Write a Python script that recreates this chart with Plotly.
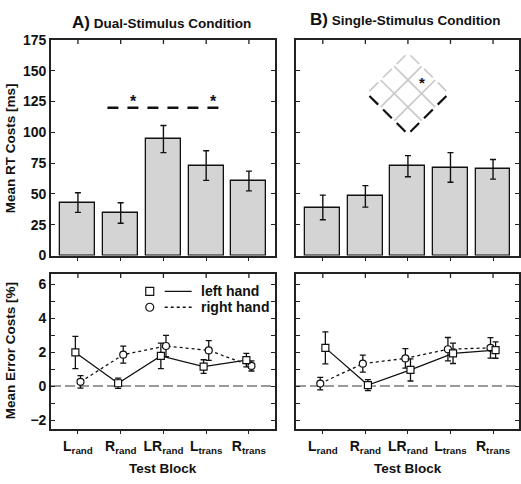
import plotly.graph_objects as go

# ---------------- data ----------------
blocks = ["L<sub>rand</sub>", "R<sub>rand</sub>", "LR<sub>rand</sub>", "L<sub>trans</sub>", "R<sub>trans</sub>"]

rt_dual = [43, 34.5, 94.5, 73, 60.5]
rt_dual_err = [8, 8.3, 11, 12, 8]
rt_single = [39, 48, 72.5, 71.5, 70]
rt_single_err = [10, 8.7, 8.6, 12, 8]

err_dual_left = [1.98, 0.17, 1.78, 1.15, 1.53]
err_dual_left_e = [0.95, 0.3, 0.75, 0.4, 0.4]
err_dual_right = [0.25, 1.85, 2.36, 2.1, 1.19]
err_dual_right_e = [0.37, 0.5, 0.63, 0.58, 0.3]

err_single_left = [2.25, 0.06, 0.95, 1.93, 2.12]
err_single_left_e = [0.94, 0.32, 0.65, 0.6, 0.48]
err_single_right = [0.15, 1.32, 1.63, 2.17, 2.25]
err_single_right_e = [0.37, 0.5, 0.57, 0.69, 0.6]

rt_ticks = [0, 25, 50, 75, 100, 125, 150, 175]
err_ticks = [-2, 0, 2, 4, 6]

sig_y = 120
sig_stars = [1.29, 3.18]

# ---------------- style ----------------
FONT = "Liberation Sans, Arial, sans-serif"
INK = "#111111"
W, H = 521, 484
xr = [-0.63, 4.61]
xpos = list(range(len(blocks)))

def px_x(p):
    return p / W

def px_y(p):
    return 1 - p / H

domA = [px_x(51), px_x(275)]
domB = [px_x(296), px_x(519)]
domTop = [px_y(256), px_y(33)]
domBot = [px_y(435), px_y(275)]

fig = go.Figure()

def bars(vals, errs, xa, ya):
    fig.add_trace(go.Bar(
        x=xpos, y=vals, width=0.82, xaxis=xa, yaxis=ya,
        marker=dict(color="#d4d4d4", line=dict(color=INK, width=1.3)),
        error_y=dict(type="data", array=errs, color=INK, thickness=1.4, width=3),
        showlegend=False, hoverinfo="skip"))

bars(rt_dual, rt_dual_err, "x", "y")
bars(rt_single, rt_single_err, "x2", "y2")

def series(vals, errs, off, symbol, dash, xa, ya):
    fig.add_trace(go.Scatter(
        x=[p + off for p in xpos], y=vals, xaxis=xa, yaxis=ya,
        mode="lines+markers",
        line=dict(color=INK, width=1.3, dash=dash),
        marker=dict(symbol=symbol, size=7, color="white", line=dict(color=INK, width=1.2)),
        error_y=dict(type="data", array=errs, color=INK, thickness=1.3, width=3),
        showlegend=False, hoverinfo="skip"))

series(err_dual_right, err_dual_right_e, 0.06, "circle", "dot", "x3", "y3")
series(err_dual_left, err_dual_left_e, -0.06, "square", "solid", "x3", "y3")
series(err_single_right, err_single_right_e, -0.06, "circle", "dot", "x4", "y4")
series(err_single_left, err_single_left_e, 0.06, "square", "solid", "x4", "y4")

axis_common = dict(showline=True, linecolor="#222222", linewidth=1.6, mirror=True,
                   showgrid=False, zeroline=False,
                   tickfont=dict(family=FONT, size=14, color=INK, weight="bold"),
                   tickcolor="#222222", ticklen=4, tickwidth=1.3)

lay = dict(
    width=W, height=H, margin=dict(l=0, r=0, t=0, b=0),
    paper_bgcolor="white", plot_bgcolor="white", bargap=0,
)

for name, dom, anchor, showlab in [("xaxis", domA, "y", False), ("xaxis2", domB, "y2", False),
                                   ("xaxis3", domA, "y3", True), ("xaxis4", domB, "y4", True)]:
    lay[name] = dict(axis_common, domain=dom, anchor=anchor, range=xr, ticks="outside",
                     tickvals=xpos, ticktext=blocks, showticklabels=showlab)

for name, dom, anchor, showlab in [("yaxis", domTop, "x", True), ("yaxis2", domTop, "x2", False)]:
    lay[name] = dict(axis_common, domain=dom, anchor=anchor, range=[0, 175], ticks="inside",
                     mirror="allticks", tickvals=rt_ticks, showticklabels=showlab)
for name, dom, anchor, showlab in [("yaxis3", domBot, "x3", True), ("yaxis4", domBot, "x4", False)]:
    lay[name] = dict(axis_common, domain=dom, anchor=anchor, range=[-2.5, 6.6], ticks="inside",
                     mirror="allticks", tickvals=err_ticks, showticklabels=showlab,
                     minor=dict(dtick=1, tick0=0, ticks="inside", ticklen=4, tickwidth=1.3,
                                tickcolor="#222222", showgrid=False))

fig.update_layout(**lay)

shapes = []
annotations = []

# inward tick marks along the top edge of every panel
for xa, ya in [("x", "y"), ("x2", "y2"), ("x3", "y3"), ("x4", "y4")]:
    for p in xpos:
        shapes.append(dict(type="line", xref=xa, yref=ya + " domain", ysizemode="pixel", yanchor=1,
                           x0=p, x1=p, y0=0, y1=-4, line=dict(color="#222222", width=1.3)))

# zero reference lines
for xa, ya in [("x3", "y3"), ("x4", "y4")]:
    shapes.append(dict(type="line", xref=xa + " domain", yref=ya, x0=0, x1=1, y0=0, y1=0,
                       line=dict(color="#9a9a9a", width=2, dash="10px,4px"), layer="below"))

# significance line in panel A
shapes.append(dict(type="line", xref="x", yref="y", x0=0.69, x1=3.32, y0=sig_y, y1=sig_y,
                   line=dict(color=INK, width=2.5, dash="11px,9px")))
for sx in sig_stars:
    annotations.append(dict(x=sx, y=sig_y, xref="x", yref="y", text="*", showarrow=False,
                            yanchor="bottom", yshift=-4,
                            font=dict(family=FONT, size=16, color=INK, weight="bold")))

# diamond stimulus inset (panel B)
cx, cy, hw, hh = 2.0, 131.5, 0.962, 33.0
L = (cx - hw, cy)
T = (cx, cy + hh)
B = (cx, cy - hh)

def P(u, v):
    return (L[0] + u * (T[0] - L[0]) + v * (B[0] - L[0]),
            L[1] + u * (T[1] - L[1]) + v * (B[1] - L[1]))

GRAY = "#c8c8c8"
n = 3
for k in range(1, n):
    t = k / n
    for a, b in [(P(t, 0), P(t, 1)), (P(0, t), P(1, t))]:
        shapes.append(dict(type="line", xref="x2", yref="y2", x0=a[0], y0=a[1], x1=b[0], y1=b[1],
                           line=dict(color=GRAY, width=1.6)))
for j in range(n):
    s0, s1 = (j + 0.18) / n, (j + 0.82) / n
    for a, b, col, wd in [(P(s0, 0), P(s1, 0), GRAY, 1.6), (P(1, s0), P(1, s1), GRAY, 1.6),
                          (P(0, s0), P(0, s1), INK, 2.2), (P(s0, 1), P(s1, 1), INK, 2.2)]:
        shapes.append(dict(type="line", xref="x2", yref="y2", x0=a[0], y0=a[1], x1=b[0], y1=b[1],
                           line=dict(color=col, width=wd)))
star = P(5 / 6, 0.5)
annotations.append(dict(x=star[0], y=star[1], xref="x2", yref="y2", text="*", showarrow=False,
                        yanchor="middle", yshift=-3,
                        font=dict(family=FONT, size=15, color=INK, weight="bold")))

# legend (panel A lower)
for yy, sym, dash, label in [(5.57, "square", "solid", "left hand"),
                             (4.64, "circle", "dot", "right hand")]:
    fig.add_trace(go.Scatter(x=[1.68], y=[yy], xaxis="x3", yaxis="y3", mode="markers",
                             marker=dict(symbol=sym, size=8, color="white", line=dict(color=INK, width=1.2)),
                             showlegend=False, hoverinfo="skip"))
    shapes.append(dict(type="line", xref="x3", yref="y3", x0=2.03, x1=2.66, y0=yy, y1=yy,
                       line=dict(color=INK, width=1.3, dash=dash)))
    annotations.append(dict(x=2.83, y=yy, xref="x3", yref="y3", text=label, showarrow=False,
                            xanchor="left", yanchor="middle",
                            font=dict(family=FONT, size=14, color=INK, weight="bold")))

# titles
for xc, yc, letter, txt in [(161.5, 15, "A)", "Dual-Stimulus Condition"),
                            (405, 12, "B)", "Single-Stimulus Condition")]:
    annotations.append(dict(x=px_x(xc), y=px_y(yc), xref="paper", yref="paper", showarrow=False,
                            xanchor="center", yanchor="middle",
                            text=f"<span style='font-size:17px'>{letter}</span> {txt}",
                            font=dict(family=FONT, size=13.5, color=INK, weight="bold")))
for xc in [163, 407.5]:
    annotations.append(dict(x=px_x(xc), y=px_y(476), xref="paper", yref="paper", showarrow=False,
                            xanchor="center", yanchor="middle", text="Test Block",
                            font=dict(family=FONT, size=13.5, color=INK, weight="bold")))
for yc, txt in [(145, "Mean RT Costs [ms]"), (355, "Mean Error Costs [%]")]:
    annotations.append(dict(x=px_x(10), y=px_y(yc), xref="paper", yref="paper", showarrow=False,
                            xanchor="center", yanchor="middle", textangle=-90, text=txt,
                            font=dict(family=FONT, size=13.5, color=INK, weight="bold")))

fig.update_layout(shapes=shapes, annotations=annotations)
fig.write_html("out.html", config={"displayModeBar": False},
               post_script="document.body.style.margin='0';document.body.style.overflow='hidden';")
